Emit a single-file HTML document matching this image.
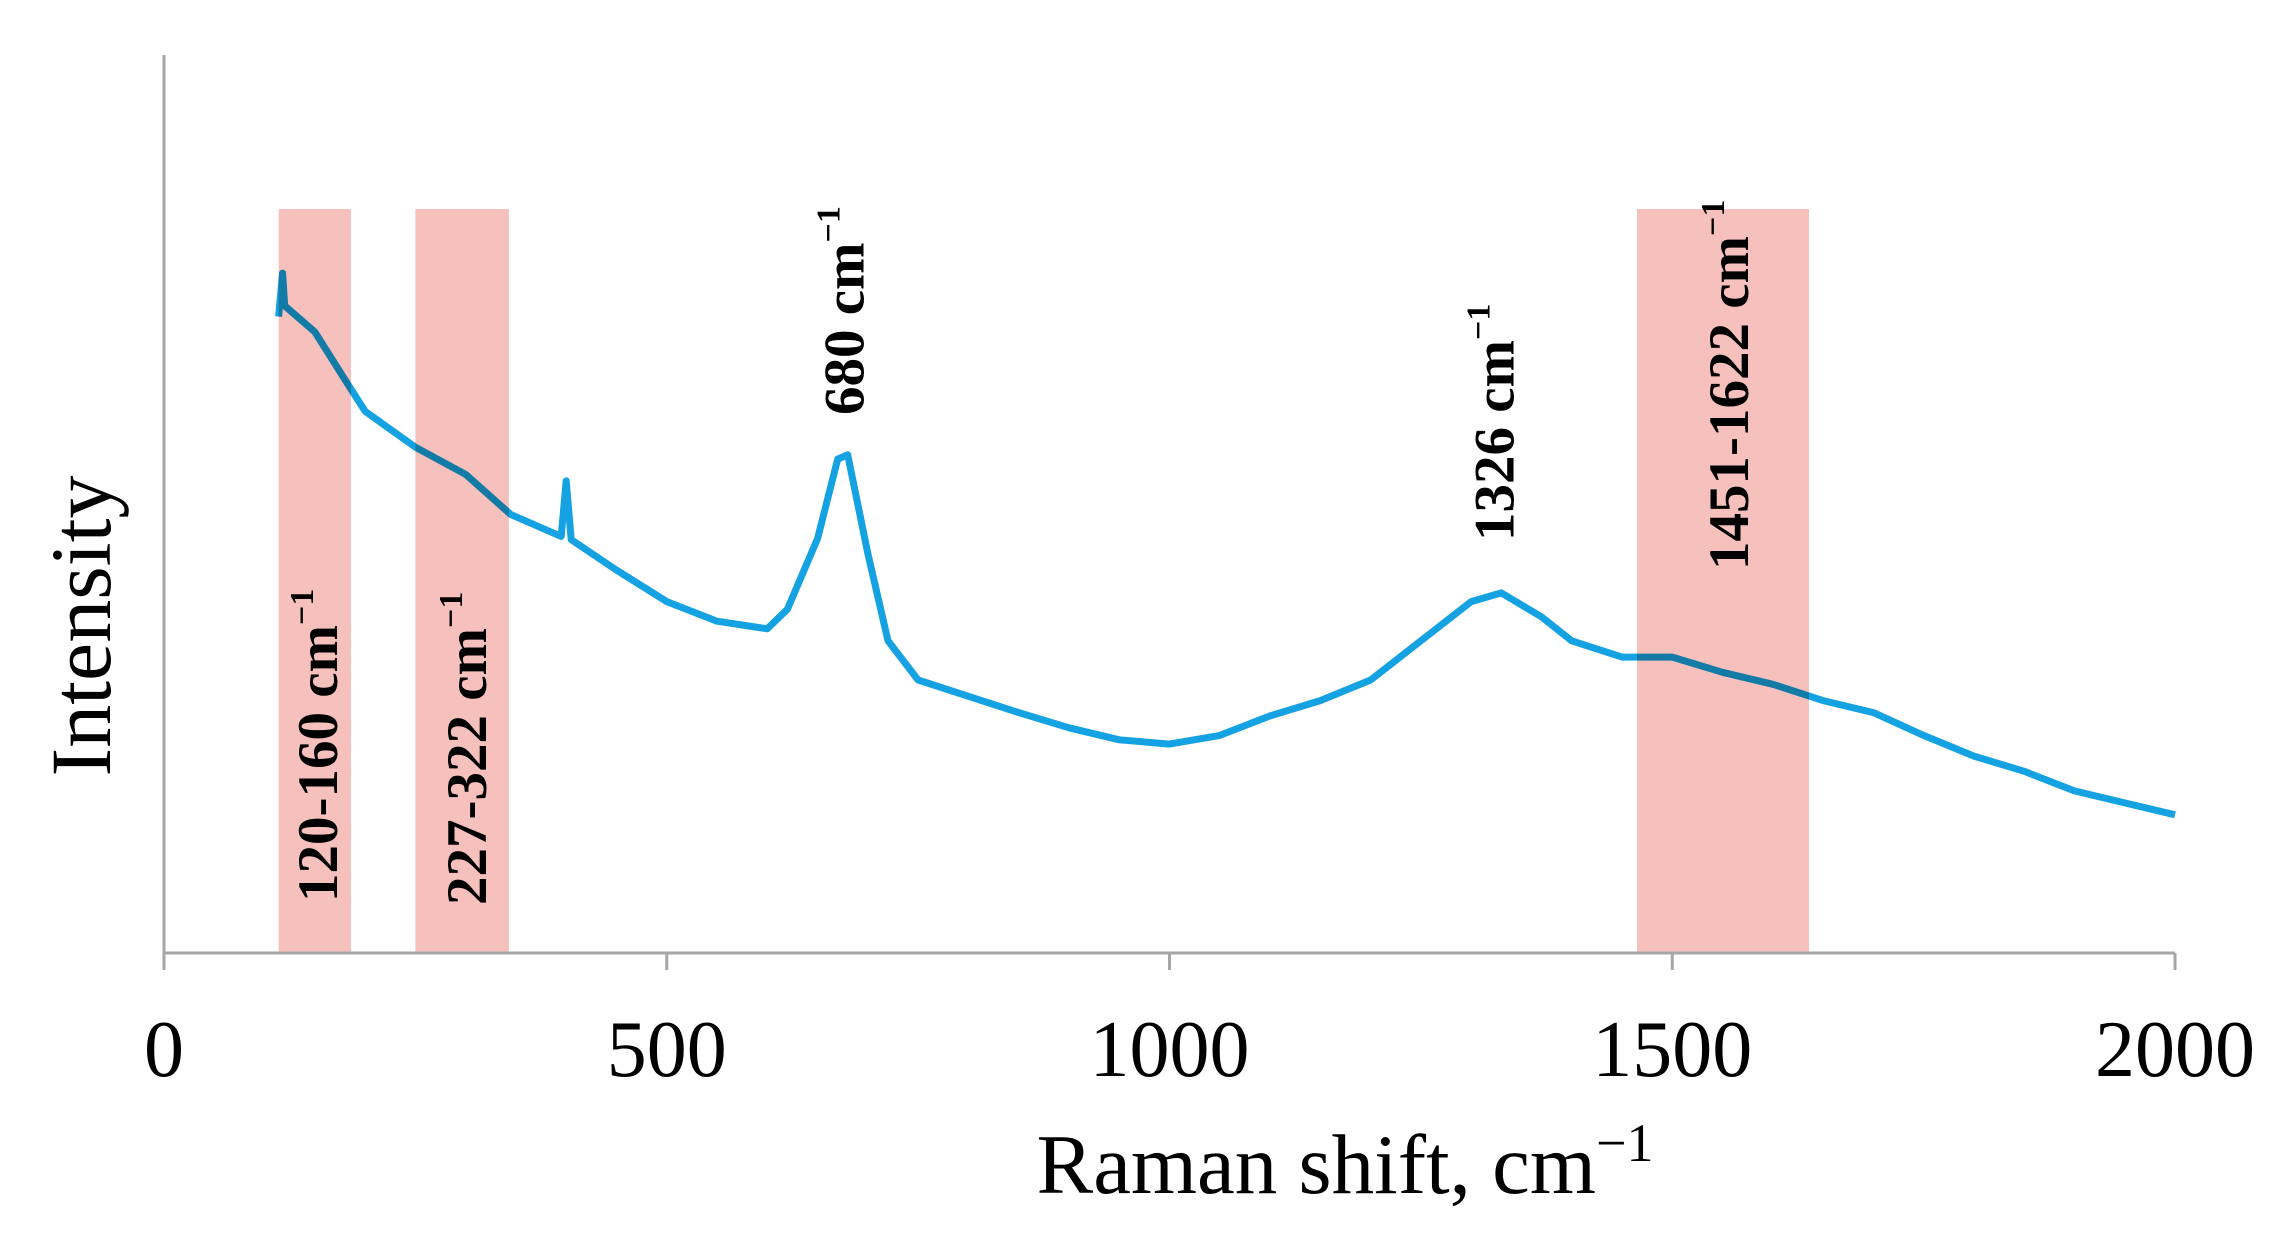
<!DOCTYPE html>
<html><head><meta charset="utf-8"><style>
html,body{margin:0;padding:0;background:#fff;}
svg{display:block;}
text{font-family:"Liberation Serif",serif;fill:#000;}
</style></head><body>
<svg id="chart" width="2281" height="1233" viewBox="0 0 2281 1233">
<g id="plot"></g>
<g id="bands"></g>
<g id="axes"></g>
<g id="labels"></g>
<text x="1345" y="1193" text-anchor="middle" font-size="85">Raman shift, cm<tspan font-size="54" dy="-32">−1</tspan></text>
<text transform="translate(110,626) rotate(-90)" text-anchor="middle" font-size="86">Intensity</text>
</svg>
<script>
// Data
const shifts = [114,118,120,150,180,200,250,300,345,395,400,405,450,500,550,600,620,650,670,680,700,720,750,800,850,900,950,1000,1050,1100,1150,1200,1250,1300,1330,1370,1400,1450,1500,1550,1600,1650,1700,1750,1800,1850,1900,1950,2000];
const intensity = [585,625,595,571,527,498,465,440,403,383,434,380,352,323,305,298,316,381,454,458,367,287,251,236,221,207,196,192,200,218,232,251,287,323,331,309,287,272,272,258,247,232,221,200,181,167,149,138,127];
const bandStarts = [114,250,1465];
const bandEnds = [186,343,1636];
const bandLabels = ["120-160 cm","227-322 cm","1451-1622 cm"];
const peakPos = [680,1326];
const peakLabels = ["680 cm","1326 cm"];
const xTicks = [0,500,1000,1500,2000];

const X0=164, XPX=1.0055, Y0=953, YK=1.0878, YTOP=55, BAND_TOP=209;
const xs = v => X0 + v*XPX;
const ys = v => Y0 - v*YK;
const NS="http://www.w3.org/2000/svg";
function mk(tag, parent){const e=document.createElementNS(NS,tag);document.getElementById(parent).appendChild(e);return e;}

const line = mk('path','plot');


line.setAttribute('d', shifts.map((s,i)=>(i?'L':'M')+xs(s).toFixed(1)+','+ys(intensity[i]).toFixed(1)).join(''));
line.setAttribute('fill','none');
line.setAttribute('stroke','#14a2e2');
line.setAttribute('stroke-width','7');
line.setAttribute('stroke-linejoin','round');

bandStarts.forEach((b,i)=>{
  const r=mk('rect','bands');
  
  
  r.setAttribute('x',xs(b)); r.setAttribute('y',BAND_TOP);
  r.setAttribute('width',xs(bandEnds[i])-xs(b)); r.setAttribute('height',Y0-BAND_TOP);
  r.setAttribute('fill','#f6c1bd');
  r.style.mixBlendMode='multiply';
});

const ya=mk('line','axes');


ya.setAttribute('x1',X0);ya.setAttribute('x2',X0);ya.setAttribute('y1',YTOP);ya.setAttribute('y2',Y0+16);
ya.setAttribute('stroke','#a6a6a6');ya.setAttribute('stroke-width','3');
const xa=mk('line','axes');


xa.setAttribute('x1',X0);xa.setAttribute('x2',xs(2000));xa.setAttribute('y1',Y0);xa.setAttribute('y2',Y0);
xa.setAttribute('stroke','#a6a6a6');xa.setAttribute('stroke-width','3');
xTicks.forEach(t=>{
  const l=mk('line','axes');
  
  
  l.setAttribute('x1',xs(t));l.setAttribute('x2',xs(t));l.setAttribute('y1',Y0);l.setAttribute('y2',Y0+17);
  l.setAttribute('stroke','#a6a6a6');l.setAttribute('stroke-width','3');
  const tx=mk('text','axes');
  
  
  tx.setAttribute('x',xs(t));tx.setAttribute('y',1076);
  tx.setAttribute('text-anchor','middle');tx.setAttribute('font-size','80');
  tx.textContent=t;
});

function rotLabel(cx, bottom, txt, name){
  const t=mk('text','labels');
  
  
  t.setAttribute('transform','translate('+(cx+20)+','+bottom+') rotate(-90)');
  t.setAttribute('font-size','57');t.setAttribute('font-weight','bold');
  t.innerHTML=txt+'<tspan font-size="34" dy="-24">−1</tspan>';
}
const bandLabelX=[317,466,1728], bandLabelBottom=[902,905,570];
bandLabels.forEach((s,i)=>rotLabel(bandLabelX[i],bandLabelBottom[i],s,'band-label'));
const peakLabelBottom=[415,541];
peakLabels.forEach((s,i)=>rotLabel(xs(peakPos[i])-4,peakLabelBottom[i],s,'peak-label'));
</script>
</body></html>
